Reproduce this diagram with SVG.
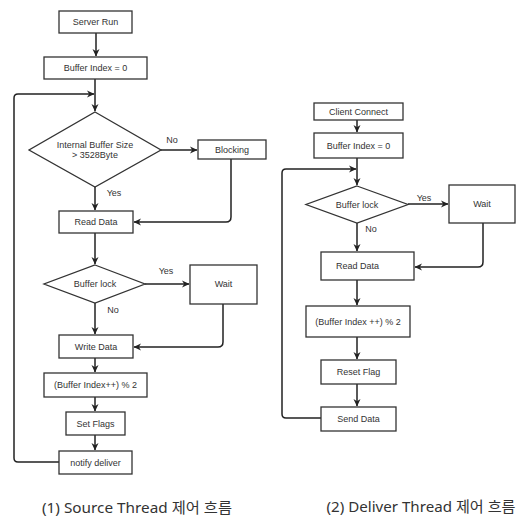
<svg xmlns="http://www.w3.org/2000/svg" width="516" height="517" viewBox="0 0 516 517">
<defs>
<style>
.box{fill:#fff;stroke:#333;stroke-width:1.3}
.t{font-family:"Liberation Sans",Arial,sans-serif;font-size:9px;fill:#333;text-anchor:middle;dominant-baseline:central}
.c{fill:none;stroke:#222;stroke-width:1.5;stroke-linejoin:round}
.cap{font-family:"Noto Sans","Noto Sans CJK KR",sans-serif;font-size:14.5px;fill:#333;text-anchor:middle}
</style>
<marker id="ah" viewBox="0 0 8 8" refX="7" refY="4" markerWidth="8" markerHeight="8" markerUnits="userSpaceOnUse" orient="auto">
<path d="M0,0.5 L7.5,4 L0,7.5 L2.2,4 Z" fill="#222"/>
</marker>
</defs>
<rect width="516" height="517" fill="#fff"/>

<g id="connectors">
<!-- left flow -->
<path class="c" d="M96,33 V56" marker-end="url(#ah)"/>
<path class="c" d="M95,79 V111" marker-end="url(#ah)"/>
<path class="c" d="M161,150 H197" marker-end="url(#ah)"/>
<path class="c" d="M231,159 V217 Q231,222 226,222 H134" marker-end="url(#ah)"/>
<path class="c" d="M95,187 V210" marker-end="url(#ah)"/>
<path class="c" d="M95,233 V264" marker-end="url(#ah)"/>
<path class="c" d="M145,284 H189" marker-end="url(#ah)"/>
<path class="c" d="M223,304 V342 Q223,347 218,347 H134" marker-end="url(#ah)"/>
<path class="c" d="M95,303 V334" marker-end="url(#ah)"/>
<path class="c" d="M95,358 V372" marker-end="url(#ah)"/>
<path class="c" d="M95,397 V411" marker-end="url(#ah)"/>
<path class="c" d="M95,435 V450" marker-end="url(#ah)"/>
<path class="c" d="M59,462 H18 Q14,462 14,458 V98 Q14,94 18,94 H94" marker-end="url(#ah)"/>
<!-- right flow -->
<path class="c" d="M357,120 V132" marker-end="url(#ah)"/>
<path class="c" d="M357,158 V185" marker-end="url(#ah)"/>
<path class="c" d="M408,204 H448" marker-end="url(#ah)"/>
<path class="c" d="M483,223 V262 Q483,267 478,267 H415" marker-end="url(#ah)"/>
<path class="c" d="M357,223 V251" marker-end="url(#ah)"/>
<path class="c" d="M357,280 V305" marker-end="url(#ah)"/>
<path class="c" d="M357,337 V359" marker-end="url(#ah)"/>
<path class="c" d="M357,384 V406" marker-end="url(#ah)"/>
<path class="c" d="M321,418 H286 Q282,418 282,414 V173 Q282,169 286,169 H356" marker-end="url(#ah)"/>
</g>

<g id="labels">
<text class="t" x="172" y="140">No</text>
<text class="t" x="114" y="193">Yes</text>
<text class="t" x="166" y="271">Yes</text>
<text class="t" x="113" y="310">No</text>
<text class="t" x="424" y="198">Yes</text>
<text class="t" x="371" y="229">No</text>
</g>

<g id="server-run"><rect class="box" x="59" y="11" width="73" height="22"/><text class="t" x="95.5" y="22">Server Run</text></g>
<g id="buffer-index-0-left"><rect class="box" x="44" y="57" width="103" height="22"/><text class="t" x="95.5" y="68">Buffer Index = 0</text></g>
<g id="internal-buffer-size"><polygon class="box" points="95,112 161,150 95,187 29,150"/><text class="t" x="95" y="145">Internal Buffer Size</text><text class="t" x="95" y="155">&gt; 3528Byte</text></g>
<g id="blocking"><rect class="box" x="198" y="140" width="68" height="19"/><text class="t" x="232" y="149.5">Blocking</text></g>
<g id="read-data-left"><rect class="box" x="59" y="211" width="74" height="22"/><text class="t" x="96" y="222">Read Data</text></g>
<g id="buffer-lock-left"><polygon class="box" points="95,265 145,284 95,303 44,284"/><text class="t" x="95" y="284">Buffer lock</text></g>
<g id="wait-left"><rect class="box" x="190" y="265" width="67" height="39"/><text class="t" x="223.5" y="284">Wait</text></g>
<g id="write-data"><rect class="box" x="59" y="335" width="74" height="23"/><text class="t" x="96" y="346.5">Write Data</text></g>
<g id="buffer-index-inc-left"><rect class="box" x="44" y="373" width="103" height="24"/><text class="t" x="95.5" y="385">(Buffer Index++) % 2</text></g>
<g id="set-flags"><rect class="box" x="66" y="412" width="59" height="23"/><text class="t" x="95.5" y="423.5">Set Flags</text></g>
<g id="notify-deliver"><rect class="box" x="59" y="451" width="73" height="23"/><text class="t" x="95.5" y="462.5">notify deliver</text></g>

<g id="client-connect"><rect class="box" x="314" y="103" width="89" height="17"/><text class="t" x="358.5" y="111.5">Client Connect</text></g>
<g id="buffer-index-0-right"><rect class="box" x="314" y="133" width="89" height="25"/><text class="t" x="358.5" y="145.5">Buffer Index = 0</text></g>
<g id="buffer-lock-right"><polygon class="box" points="357,186 408,204.5 357,223 306,204.5"/><text class="t" x="357" y="204.5">Buffer lock</text></g>
<g id="wait-right"><rect class="box" x="449" y="185" width="66" height="38"/><text class="t" x="482" y="204">Wait</text></g>
<g id="read-data-right"><rect class="box" x="321" y="252" width="93" height="28"/><text class="t" x="357.5" y="266">Read Data</text></g>
<g id="buffer-index-inc-right"><rect class="box" x="306" y="306" width="104" height="31"/><text class="t" x="358" y="321.5">(Buffer Index ++) % 2</text></g>
<g id="reset-flag"><rect class="box" x="321" y="360" width="75" height="24"/><text class="t" x="358.5" y="372">Reset Flag</text></g>
<g id="send-data"><rect class="box" x="321" y="407" width="75" height="24"/><text class="t" x="358.5" y="419">Send Data</text></g>

<g id="captions">
<text class="cap" x="137" y="513" textLength="190" lengthAdjust="spacingAndGlyphs">(1) Source Thread 제어 흐름</text>
<text class="cap" x="421" y="512" textLength="189" lengthAdjust="spacingAndGlyphs">(2) Deliver Thread 제어 흐름</text>
</g>
</svg>
